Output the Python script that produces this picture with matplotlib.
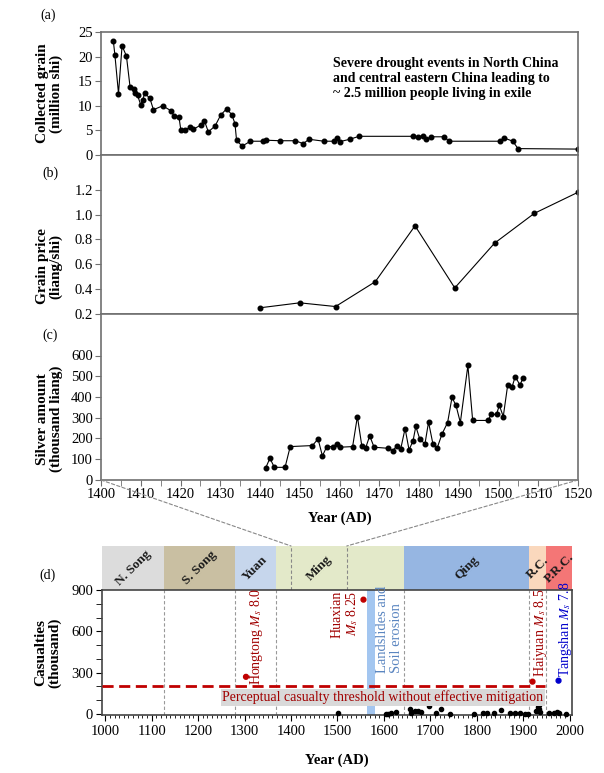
import matplotlib
matplotlib.use('Agg')
import matplotlib.pyplot as plt
from matplotlib.patches import ConnectionPatch
from matplotlib.ticker import MultipleLocator

plt.rcParams['font.family'] = ['Liberation Serif', 'DejaVu Serif']
plt.rcParams['mathtext.fontset'] = 'stix'

# (a) collected grain, million shi
grain_years = [1403.1, 1403.5, 1404.4, 1405.3, 1406.4, 1407.3, 1408.3, 1408.6, 1409.2, 1410.0,
               1410.5, 1411.0, 1412.3, 1413.2, 1415.5, 1417.6, 1418.4, 1419.6, 1420.1, 1421.1,
               1422.4, 1423.2, 1425.1, 1426.0, 1427.0, 1428.7, 1430.1, 1431.6, 1432.9, 1433.7,
               1434.1, 1435.5, 1437.6, 1440.8, 1441.6, 1445.1, 1448.9, 1450.9, 1452.3, 1456.1,
               1458.5, 1459.3, 1460.0, 1462.6, 1464.9, 1478.5, 1479.7, 1481.0, 1481.8, 1483.1,
               1486.4, 1487.5, 1500.4, 1501.3, 1503.6, 1504.9, 1520.0]
grain = [23.2, 20.3, 12.5, 22.2, 20.1, 13.9, 13.4, 12.7, 12.1, 10.2,
         11.2, 12.6, 11.5, 9.2, 10.0, 9.0, 7.9, 7.8, 5.0, 5.0,
         5.7, 5.2, 6.1, 7.0, 4.7, 5.9, 8.1, 9.4, 8.2, 6.4,
         3.0, 1.8, 2.8, 2.8, 3.0, 2.9, 2.9, 2.3, 3.2, 2.8,
         2.8, 3.4, 2.7, 3.2, 3.8, 3.8, 3.7, 3.9, 3.2, 3.7,
         3.7, 2.8, 2.8, 3.5, 2.8, 1.3, 1.2]

# (b) grain price, liang/shi
price_years = [1440, 1450, 1459, 1469, 1479, 1489, 1499, 1509, 1520]
price = [0.25, 0.29, 0.26, 0.46, 0.91, 0.41, 0.77, 1.01, 1.18]

# (c) silver amount, thousand liang
silver_years = [1441.4, 1442.5, 1443.6, 1446.3, 1447.6, 1453.2, 1454.6, 1455.7, 1456.8, 1458.4,
                1459.3, 1460.1, 1463.3, 1464.5, 1465.6, 1466.6, 1467.6, 1468.7, 1472.1, 1473.4,
                1474.4, 1475.4, 1476.5, 1477.5, 1478.5, 1479.2, 1480.2, 1481.5, 1482.4, 1483.5,
                1484.6, 1485.8, 1487.2, 1488.3, 1489.3, 1490.4, 1492.3, 1493.5, 1497.4, 1498.1,
                1499.5, 1500.2, 1501.2, 1502.3, 1503.4, 1504.2, 1505.4, 1506.2]
silver = [57, 105, 61, 61, 161, 166, 198, 116, 161, 161,
          174, 158, 161, 306, 166, 156, 213, 158, 153, 142,
          163, 150, 248, 145, 189, 258, 197, 174, 279, 174,
          156, 222, 277, 398, 360, 277, 552, 287, 287, 316,
          316, 360, 306, 456, 448, 498, 458, 493]

# (d) earthquake casualties, thousand
cas_years = [1501, 1605, 1609, 1616, 1626, 1657, 1659, 1666, 1673, 1680,
             1698, 1713, 1722, 1743, 1795, 1813, 1822, 1836, 1853, 1871,
             1882, 1893, 1904, 1911, 1927, 1931, 1933, 1935, 1937, 1956,
             1967, 1973, 1978, 1992]
cas = [5, 3, 3, 5, 17, 36, 8, 20, 20, 17,
       55, 9, 36, 3, 3, 6, 6, 9, 28, 6,
       9, 6, 3, 3, 20, 50, 65, 40, 17, 6,
       6, 15, 6, 3]

quake_years = [1303, 1556, 1920, 1976]
quake_cas = [270, 830, 235, 242]
quake_colors = ['#c00000', '#c00000', '#c00000', '#0000cc']

threshold = 200
landslide_span = [1564, 1580]

dynasty_names = ['N. Song', 'S. Song', 'Yuan', 'Ming', 'Qing', 'R.C.', 'P.R.C.']
dynasty_start = [960, 1127, 1279, 1368, 1644, 1912, 1949]
dynasty_end = [1127, 1279, 1368, 1644, 1912, 1949, 2010]
dynasty_colors = ['#dcdcdc', '#c9bfa2', '#c6d6ec', '#e3e9c9', '#96b6e2', '#fad8bd', '#f47676']

zoom_years = [1400, 1520]

W, H = 604, 773


def box(l, t, r, b):
    return [l / W, 1 - b / H, (r - l) / W, (b - t) / H]


fig = plt.figure(figsize=(6.04, 7.73), dpi=100)
ax_a = fig.add_axes(box(101, 32, 578, 155))
ax_b = fig.add_axes(box(101, 155, 578, 314))
ax_c = fig.add_axes(box(101, 314, 578, 480))
ax_bar = fig.add_axes(box(102, 546, 572, 590))
ax_d = fig.add_axes(box(102, 590, 572, 715))

frame = '#707070'
line_kw = dict(color='black', lw=0.8, marker='o', ms=3.3)

for ax in (ax_a, ax_b, ax_c):
    ax.set_xlim(zoom_years[0], zoom_years[1])
    for s in ax.spines.values():
        s.set_color(frame)
        s.set_linewidth(1.2)
    ax.tick_params(axis='y', direction='out', length=4, color=frame, labelsize=10.5, pad=2)

ax_a.plot(grain_years, grain, **line_kw)
ax_a.set_ylim(0, 25)
ax_a.set_yticks(range(0, 26, 5))
ax_a.tick_params(axis='x', bottom=False, labelbottom=False)
ax_a.text(1458.3, 19.9, 'Severe drought events in North China\n'
          'and central eastern China leading to\n~ 2.5 million people living in exile',
          ha='left', va='top', fontsize=10, fontweight='bold', linespacing=1.2)

ax_b.plot(price_years, price, **line_kw)
ax_b.set_ylim(0.2, 1.48)
ax_b.set_yticks([0.2, 0.4, 0.6, 0.8, 1.0, 1.2])
ax_b.set_yticklabels(['%.1f' % v for v in [0.2, 0.4, 0.6, 0.8, 1.0, 1.2]])
ax_b.tick_params(axis='x', bottom=False, labelbottom=False)

ax_c.plot(silver_years, silver, **line_kw)
ax_c.set_ylim(0, 800)
ax_c.set_yticks(range(0, 601, 100))
ax_c.xaxis.set_major_locator(MultipleLocator(10))
ax_c.xaxis.set_minor_locator(MultipleLocator(5))
ax_c.tick_params(axis='x', which='both', direction='out', length=4, color=frame,
                 labelsize=10.5, pad=2)
ax_c.set_xlabel('Year (AD)', fontsize=10.5, fontweight='bold')
ax_c.xaxis.set_label_coords(0.5, -0.19)

ylabels = [(ax_a, 'Collected grain\n(million shi)', 0.5),
           (ax_b, 'Grain price\n(liang/shi)', 0.3),
           (ax_c, 'Silver amount\n(thousand liang)', 0.37)]
for ax, txt, yc in ylabels:
    ax.set_ylabel(txt, fontsize=11, fontweight='bold', ha='center', va='center',
                  linespacing=1.0)
    ax.yaxis.set_label_coords(-0.108, yc)

# dynasty bar
ax_bar.set_xlim(993, 2005)
ax_bar.set_ylim(0, 1)
ax_bar.axis('off')
for name, s, e, c in zip(dynasty_names, dynasty_start, dynasty_end, dynasty_colors):
    ax_bar.axvspan(s, e, color=c, lw=0)
    xm = (max(s, 993) + min(e, 2005)) / 2
    if name == 'Ming':
        xm = sum(zoom_years) / 2
    ax_bar.text(xm, 0.5, name, rotation=45, ha='center', va='center',
                fontsize=9.5, fontweight='bold', color='#1a1a1a')
for yr in zoom_years:
    ax_bar.axvline(yr, color='#888888', ls=(0, (3, 2)), lw=0.8)
    con = ConnectionPatch(xyA=(yr, 0), xyB=(yr, 1), coordsA='data', coordsB='data',
                          axesA=ax_c, axesB=ax_bar, color='#888888', ls=(0, (3, 2)), lw=0.8)
    fig.add_artist(con)

# (d)
ax_d.set_xlim(993, 2005)
ax_d.set_ylim(-7, 900)
for s in ax_d.spines.values():
    s.set_color('#444444')
    s.set_linewidth(1.2)
ax_d.axvspan(landslide_span[0], landslide_span[1], color='#a3c6f0', lw=0, zorder=1)
for b in dynasty_start[1:]:
    ax_d.axvline(b, color='#999999', ls=(0, (3, 2)), lw=0.8, zorder=1)
ax_d.plot([993, 1946], [threshold, threshold], color='#c00000', lw=2,
          ls=(0, (4, 2)), zorder=6)
ax_d.scatter(cas_years, cas, s=9, color='black', zorder=4, clip_on=False)
ax_d.scatter(quake_years, quake_cas, s=12, c=quake_colors, zorder=4)

dark_red = '#a00000'
ax_d.text(1326, 208, r'Hongtong $M_s$ 8.0', rotation=90, ha='center', va='bottom',
          color=dark_red, fontsize=10)
ax_d.text(1517, 897, 'Huaxian\n' + r'$M_s$ 8.25', rotation=90, ha='center', va='top',
          multialignment='right', color=dark_red, fontsize=10, linespacing=1.1)
ax_d.text(1612, 300, 'Landslides and\nSoil erosion', rotation=90, ha='center', va='bottom',
          multialignment='left', color='#5a85c0', fontsize=10.5, linespacing=1.1)
ax_d.text(1937, 268, r'Haiyuan $M_s$ 8.5', rotation=90, ha='center', va='bottom',
          color=dark_red, fontsize=10)
ax_d.text(1992, 268, r'Tangshan $M_s$ 7.8', rotation=90, ha='center', va='bottom',
          color='#0000cc', fontsize=10)
ax_d.text(1598, 122, 'Perceptual casualty threshold without effective mitigation',
          ha='center', va='center', color=dark_red, fontsize=10, zorder=5,
          bbox=dict(facecolor='#d9d9d9', edgecolor='none', pad=1.0))

ax_d.set_yticks([0, 300, 600, 900])
ax_d.yaxis.set_minor_locator(MultipleLocator(100))
ax_d.xaxis.set_major_locator(MultipleLocator(100))
ax_d.xaxis.set_minor_locator(MultipleLocator(10))
ax_d.tick_params(axis='y', which='both', direction='out', length=4.5, labelsize=10.5, pad=2)
ax_d.tick_params(axis='x', which='major', direction='out', length=4, labelsize=10.5, pad=3)
ax_d.tick_params(axis='x', which='minor', direction='out', length=2)
ax_d.set_xlabel('Year (AD)', fontsize=10.5, fontweight='bold')
ax_d.xaxis.set_label_coords(0.5, -0.31)
ax_d.set_ylabel('Casualties\n(thousand)', fontsize=11, fontweight='bold',
                ha='center', va='center', linespacing=1.0)
ax_d.yaxis.set_label_coords(-0.115, 0.5)

for txt, (px, py) in zip(['(a)', '(b)', '(c)', '(d)'],
                         [(48, 15), (50, 173), (50, 335), (48, 575)]):
    fig.text(px / W, 1 - py / H, txt, ha='center', va='center', fontsize=10)

fig.savefig('out.png', dpi=100)
